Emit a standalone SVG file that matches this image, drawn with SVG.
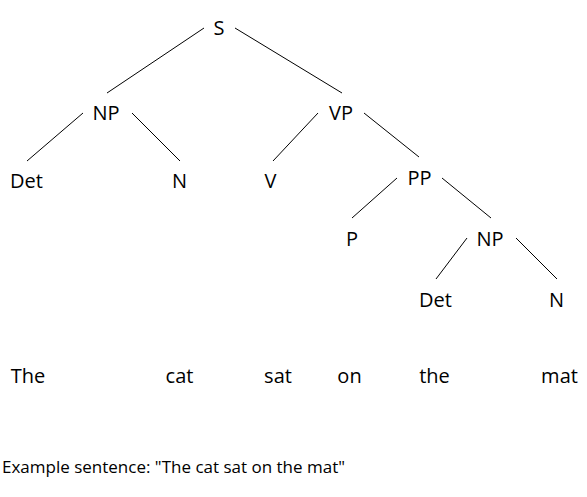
<svg xmlns="http://www.w3.org/2000/svg" width="587" height="497" viewBox="0 0 587 497">
<style>
text{font-family:"Open Sans","Liberation Sans",sans-serif;fill:#000}
.n{font-size:20px;text-anchor:middle}
.c{font-size:17px}
#edges line{stroke:#000;stroke-width:1}
</style>
<rect width="587" height="497" fill="#fff"/>
<g id="edges">
<line x1="204" y1="28" x2="107" y2="93"/>
<line x1="235" y1="28" x2="342" y2="93"/>
<line x1="83" y1="113" x2="27" y2="161"/>
<line x1="132" y1="113" x2="180" y2="161"/>
<line x1="318" y1="113" x2="273" y2="161"/>
<line x1="364" y1="113" x2="419" y2="157"/>
<line x1="397" y1="178" x2="352" y2="218"/>
<line x1="442" y1="178" x2="491" y2="218"/>
<line x1="467" y1="238" x2="436" y2="279"/>
<line x1="516" y1="238" x2="557" y2="279"/>
</g>
<g id="S"><text class="n" x="219" y="35">S</text></g>
<g id="NP1"><text class="n" x="106" y="120">NP</text></g>
<g id="VP"><text class="n" x="341" y="120">VP</text></g>
<g id="Det1"><text class="n" x="26.5" y="188">Det</text></g>
<g id="N1"><text class="n" x="179.5" y="188">N</text></g>
<g id="V"><text class="n" x="270.5" y="188">V</text></g>
<g id="PP"><text class="n" x="419.5" y="185">PP</text></g>
<g id="P"><text class="n" x="352" y="246">P</text></g>
<g id="NP2"><text class="n" x="490" y="246">NP</text></g>
<g id="Det2"><text class="n" x="435.5" y="307">Det</text></g>
<g id="N2"><text class="n" x="556.5" y="307">N</text></g>
<g id="words">
<text class="n" x="28" y="383">The</text>
<text class="n" x="179.5" y="383">cat</text>
<text class="n" x="278" y="383">sat</text>
<text class="n" x="349.5" y="383">on</text>
<text class="n" x="434.5" y="383">the</text>
<text class="n" x="559.5" y="383">mat</text>
</g>
<g id="caption"><text class="c" x="2" y="473">Example sentence: "The cat sat on the mat"</text></g>
</svg>
